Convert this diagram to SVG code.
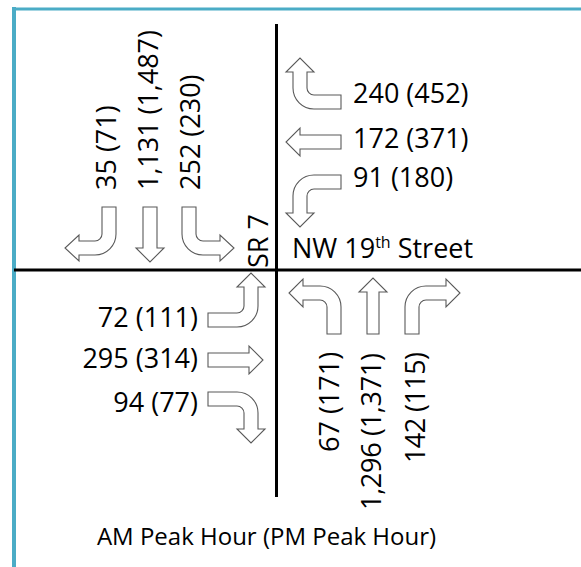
<svg xmlns="http://www.w3.org/2000/svg" width="581" height="567" viewBox="0 0 581 567">
<style>
.arrow{fill:#ffffff;stroke:#595959;stroke-width:1.1;stroke-linejoin:miter}
.road{stroke:#000000;stroke-width:3;fill:none}
.frame{stroke:#4bacc6;fill:none}
.lbl{font-family:"Open Sans","Noto Sans","Liberation Sans",sans-serif;font-size:27px;fill:#000000}
.title{font-family:"Open Sans","Noto Sans","Liberation Sans",sans-serif;font-size:24px;fill:#000000}
</style>
<rect width="581" height="567" fill="#ffffff"/>
<g id="frame">
<line class="frame" x1="12" y1="9" x2="581" y2="9" stroke-width="3"/>
<line class="frame" x1="14" y1="7" x2="14" y2="567" stroke-width="4"/>
</g>
<g id="connectors">
<line class="road" x1="14" y1="270" x2="581" y2="270"/>
<line class="road" x1="276.5" y1="24" x2="276.5" y2="497"/>
</g>
<g id="southbound">
<path class="arrow" d="M102,207 H116 V234 A21,21 0 0 1 95,255 H79 V261 L65,248 L79,235 V241 H95 A7,7 0 0 0 102,234 Z"/>
<path class="arrow" d="M143,207 H157 V248 H164 L150,262 L136,248 H143 Z"/>
<path class="arrow" d="M182,207 H196 V234 A7,7 0 0 0 203,241 H220 V235 L234,248 L220,261 V255 H203 A21,21 0 0 1 182,234 Z"/>
<text class="lbl" transform="translate(116,190) rotate(-90)">35 (71)</text>
<text class="lbl" transform="translate(158,190) rotate(-90)" textLength="160">1,131 (1,487)</text>
<text class="lbl" transform="translate(200,190) rotate(-90)">252 (230)</text>
</g>
<g id="westbound">
<path class="arrow" d="M341,95 V109 H314 A21,21 0 0 1 293,88 V72 H286 L300,58 L314,72 H307 V88 A7,7 0 0 0 314,95 Z"/>
<path class="arrow" d="M341,135 V149 H300 V156 L286,142 L300,128 V135 Z"/>
<path class="arrow" d="M341,175 V189 H314 A7,7 0 0 0 307,196 V213 H314 L300,227 L286,213 H293 V196 A21,21 0 0 1 314,175 Z"/>
<text class="lbl" x="353" y="103">240 (452)</text>
<text class="lbl" x="353" y="148">172 (371)</text>
<text class="lbl" x="353" y="187">91 (180)</text>
</g>
<g id="eastbound">
<path class="arrow" d="M208,313 V327 H237 A21,21 0 0 0 258,306 V287 H265 L251,273 L237,287 H244 V306 A7,7 0 0 1 237,313 Z"/>
<path class="arrow" d="M208,353 H249 V346 L263,360 L249,374 V367 H208 Z"/>
<path class="arrow" d="M208,392 H237 A21,21 0 0 1 258,413 V429 H265 L251,443 L237,429 H244 V413 A7,7 0 0 0 237,406 H208 Z"/>
<text class="lbl" x="198" y="327" text-anchor="end">72 (111)</text>
<text class="lbl" x="198" y="368" text-anchor="end">295 (314)</text>
<text class="lbl" x="198" y="412" text-anchor="end">94 (77)</text>
</g>
<g id="northbound">
<path class="arrow" d="M327,334 H341 V307 A21,21 0 0 0 320,286 H303 V279 L289,293 L303,307 V300 H320 A7,7 0 0 1 327,307 Z"/>
<path class="arrow" d="M367,334 V292 H359 L373,278 L387,292 H379 V334 Z"/>
<path class="arrow" d="M405,334 V307 A21,21 0 0 1 426,286 H446 V279 L460,293 L446,307 V300 H426 A7,7 0 0 0 419,307 V334 Z"/>
<text class="lbl" transform="translate(339,452) rotate(-90)">67 (171)</text>
<text class="lbl" transform="translate(381,510) rotate(-90)" textLength="157">1,296 (1,371)</text>
<text class="lbl" transform="translate(425,463) rotate(-90)" textLength="111">142 (115)</text>
</g>
<g id="street-names">
<text class="lbl" transform="translate(268,268) rotate(-90)">SR 7</text>
<text class="lbl" x="292" y="258">NW 19<tspan font-size="16" dy="-10">th</tspan><tspan dy="10"> Street</tspan></text>
</g>
<g id="caption">
<text class="title" x="266.5" y="545" text-anchor="middle">AM Peak Hour (PM Peak Hour)</text>
</g>
</svg>
